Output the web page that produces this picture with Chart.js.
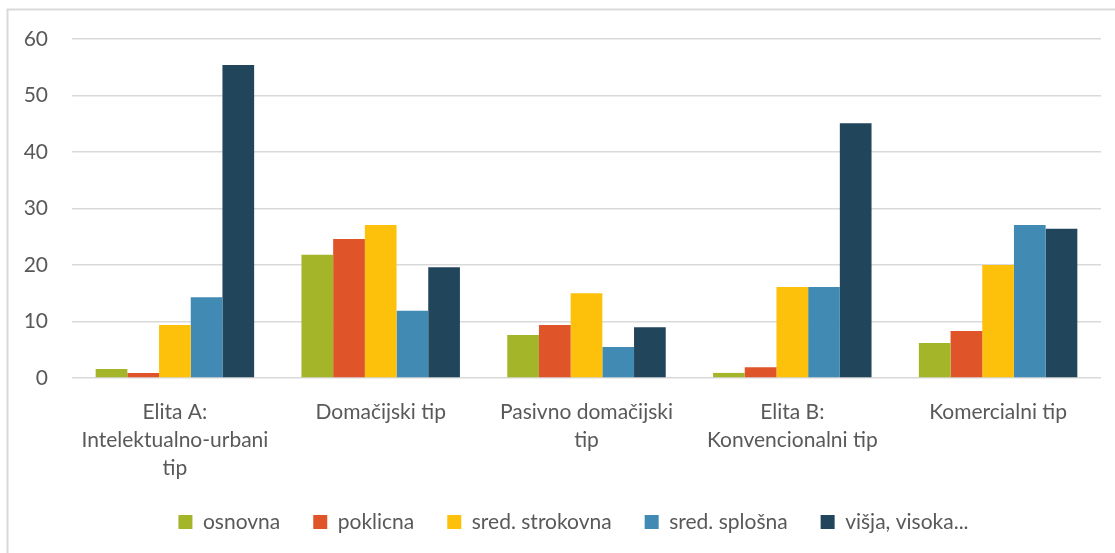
<!DOCTYPE html>
<html>
<head>
<meta charset="utf-8">
<script src="https://cdn.jsdelivr.net/npm/chart.js@4"></script>
<style>
  html, body { margin: 0; padding: 0; background: #fff; }
  #wrap { width: 1115px; height: 553px; position: relative; }
</style>
</head>
<body>
<div id="wrap"><canvas id="c"></canvas></div>
<script>
const categories = [
  ["Elita A:", "Intelektualno-urbani", "tip"],
  "Domačijski tip",
  ["Pasivno domačijski", "tip"],
  ["Elita B:", "Konvencionalni tip"],
  "Komercialni tip"
];
const seriesNames = ["osnovna", "poklicna", "sred. strokovna", "sred. splošna", "višja, visoka..."];
const osnovna = [1.6, 21.8, 7.6, 0.9, 6.2];
const poklicna = [0.9, 24.6, 9.4, 1.9, 8.3];
const sredStrokovna = [9.4, 27.1, 15.0, 16.1, 20.0];
const sredSplosna = [14.3, 11.9, 5.5, 16.1, 27.1];
const visjaVisoka = [55.4, 19.6, 9.0, 45.1, 26.4];
const yTicks = [0, 10, 20, 30, 40, 50, 60];

const colors = ["#A5B52A", "#E0542A", "#FEC10B", "#418AB3", "#21455B"];
const values = [osnovna, poklicna, sredStrokovna, sredSplosna, visjaVisoka];

const FONT = "Lato";
const TXT = "#595959";
const FS = 21;

const borderPlugin = {
  id: 'outerBorder',
  beforeDraw(chart) {
    const ctx = chart.ctx;
    ctx.save();
    ctx.fillStyle = '#fff';
    ctx.fillRect(0, 0, chart.width, chart.height);
    ctx.strokeStyle = '#d9d9d9';
    ctx.lineWidth = 2;
    ctx.beginPath();
    ctx.moveTo(7.5, chart.height);
    ctx.lineTo(7.5, 9.5);
    ctx.lineTo(chart.width, 9.5);
    ctx.stroke();
    ctx.restore();
  },
  afterLayout(chart) {
    // do not clip tick labels to their scale boxes
    Object.values(chart.scales).forEach(s => { s._computeLabelArea = () => undefined; });
  }
};

new Chart(document.getElementById('c'), {
  type: 'bar',
  data: {
    labels: categories,
    datasets: seriesNames.map((n, i) => ({
      label: n,
      data: values[i],
      backgroundColor: colors[i],
      borderWidth: 0,
      categoryPercentage: 0.77,
      barPercentage: 1.0
    }))
  },
  options: {
    responsive: true,
    maintainAspectRatio: false,
    animation: false,
    devicePixelRatio: 1,
    layout: { padding: { left: 46, right: 14, top: 39, bottom: 10.5 } },
    plugins: {
      legend: {
        position: 'bottom',
        labels: {
          boxWidth: 14, boxHeight: 14, padding: 33,
          color: TXT,
          font: { family: FONT, size: FS }
        }
      },
      tooltip: { enabled: false }
    },
    scales: {
      x: {
        grid: { display: false, drawTicks: false },
        border: { display: false },
        ticks: {
          color: TXT, padding: 20, maxRotation: 0, autoSkip: false,
          font: { family: FONT, size: FS, lineHeight: '28px' }
        },
        afterFit(s) { s.height = 100.5; }
      },
      y: {
        min: 0, max: 60,
        afterBuildTicks(s) { s.ticks = yTicks.map(v => ({ value: v })); },
        grid: { color: '#d9d9d9', lineWidth: 1.5, drawTicks: false },
        border: { display: false },
        ticks: {
          color: TXT, padding: 24,
          font: { family: FONT, size: FS }
        },
        afterFit(s) { s.width = 26; }
      }
    }
  },
  plugins: [borderPlugin]
});
</script>
</body>
</html>
